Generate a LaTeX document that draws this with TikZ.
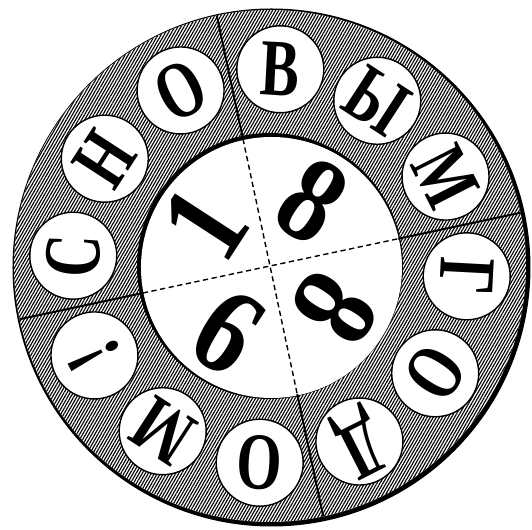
\documentclass[tikz,border=0pt]{standalone}
\usepackage{fontspec}
\setmainfont{Liberation Serif}
\usetikzlibrary{patterns.meta}

\begin{document}
\begin{tikzpicture}[x=0.02cm, y=0.02cm,
    letra/.style={circle, draw, fill=white, line width=0.8pt, minimum size=1.74cm, inner sep=0pt,
        font=\bfseries\fontsize{46}{46}\selectfont},
    algarismo/.style={inner sep=0pt, font=\bfseries\fontsize{70}{70}\selectfont}]
    \useasboundingbox (-270,-264) rectangle (262,266);

    % Aro externo (sombra)
    \fill (1.5,-1.5) circle [radius=259];

    % Anel hachurado
    \fill [white] (0,0) circle [radius=256];
    \fill [pattern={Lines[angle=60, distance=1.5pt, line width=0.65pt]}] (0,0) circle [radius=256];

    % Circulo interno
    \fill (0,0) circle [radius=133];
    \fill [white] (1.5,-1.5) circle [radius=130.5];

    % Divisoes do anel
    \foreach \a in {12,102,192,282}
        \draw [line width=1.1pt] (\a:131) -- (\a:256);

    % Divisoes tracejadas
    \draw [line width=0.8pt, dash pattern=on 3pt off 2pt] (12:130) -- (192:130);
    \draw [line width=0.8pt, dash pattern=on 3pt off 2pt] (102:130) -- (282:130);

    % Letras
    \foreach \a/\c [count=\i] in {177/С, 147/Н, 117/О, 87/В, 57/Ы, 27/М,
                                  -3/Г, -33/О, -63/Д, -93/О, -123/М, -153/!}
        \node [letra, rotate=\a-90] (l\i) at (\a:197) {\scalebox{0.72}[1]{\c}};

    % Algarismos
    \foreach \a/\d [count=\i] in {147/1, 57/8, -33/8, 237/9}
        \node [algarismo, rotate=\a-90] (n\i) at (\a:78) {\scalebox{0.85}[1]{\d}};
\end{tikzpicture}
\end{document}
